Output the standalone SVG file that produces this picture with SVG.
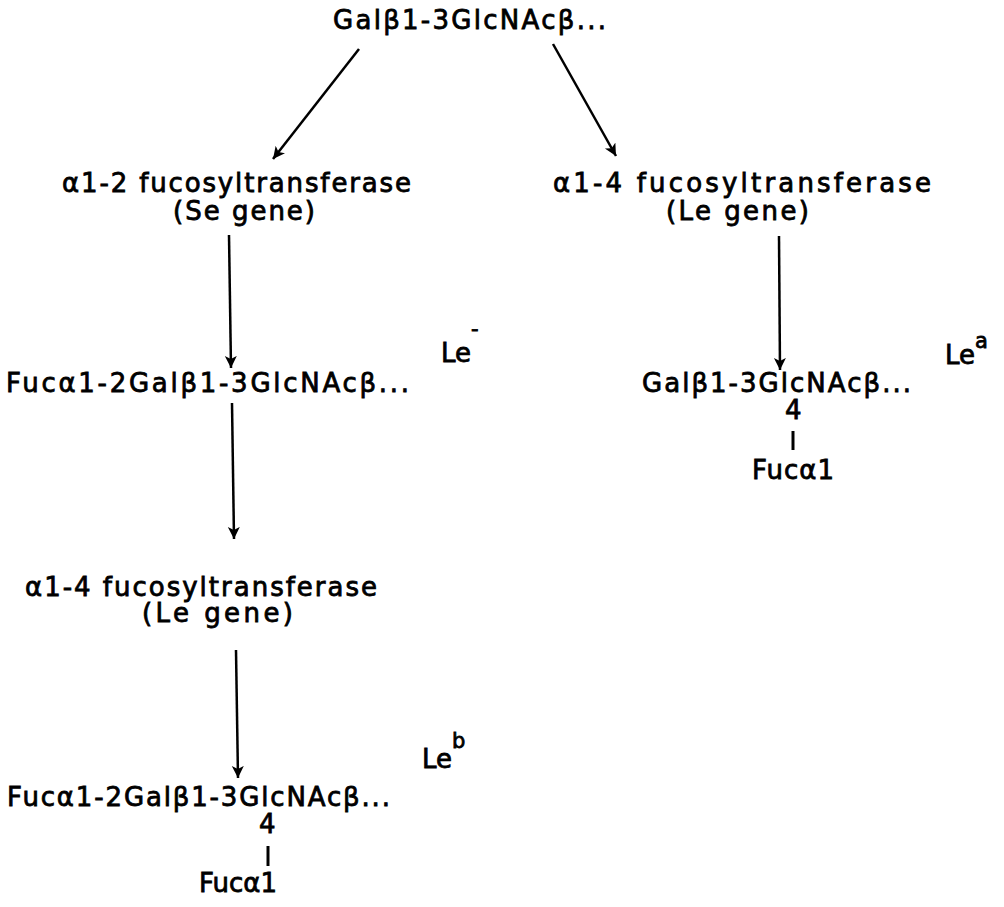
<svg xmlns="http://www.w3.org/2000/svg" width="1004" height="907" viewBox="0 0 1004 907">
<style>
  text { font-family: "DejaVu Sans", "Liberation Sans", sans-serif; font-size: 26px; fill: #000; stroke: #000; stroke-width: 0.8; }
  .sup { font-size: 21px; }
  .conn { stroke: #000; stroke-width: 2.5; fill: none; }
  .bond { stroke: #000; stroke-width: 3; }
</style>
<defs>
  <marker id="ah" markerUnits="userSpaceOnUse" markerWidth="14" markerHeight="14" refX="12" refY="6" orient="auto">
    <path d="M0,0 L12,6 L0,12 L3,6 Z" fill="#000"/>
  </marker>
</defs>
<rect width="1004" height="907" fill="#fff"/>
<g id="connectors">
  <line class="conn" x1="359" y1="49" x2="273" y2="159" marker-end="url(#ah)"/>
  <line class="conn" x1="553" y1="44" x2="616" y2="156" marker-end="url(#ah)"/>
  <line class="conn" x1="229" y1="235" x2="231" y2="368" marker-end="url(#ah)"/>
  <line class="conn" x1="779" y1="236" x2="780" y2="370" marker-end="url(#ah)"/>
  <line class="conn" x1="232" y1="403" x2="234" y2="539" marker-end="url(#ah)"/>
  <line class="conn" x1="236" y1="650" x2="238" y2="778" marker-end="url(#ah)"/>
</g>
<g id="start">
  <text x="333" y="29" textLength="273" lengthAdjust="spacing">Galβ1-3GlcNAcβ...</text>
</g>
<g id="enzyme-se">
  <text x="62" y="192" textLength="349" lengthAdjust="spacing">α1-2 fucosyltransferase</text>
  <text x="173" y="220" textLength="142" lengthAdjust="spacing">(Se gene)</text>
</g>
<g id="enzyme-le-right">
  <text x="553" y="192" textLength="378" lengthAdjust="spacing">α1-4 fucosyltransferase</text>
  <text x="666" y="220" textLength="143" lengthAdjust="spacing">(Le gene)</text>
</g>
<g id="le-minus">
  <text x="6" y="392" textLength="403" lengthAdjust="spacing">Fucα1-2Galβ1-3GlcNAcβ...</text>
  <text x="441" y="362">Le<tspan class="sup" dy="-26">-</tspan></text>
</g>
<g id="le-a">
  <text x="642" y="392" textLength="269" lengthAdjust="spacing">Galβ1-3GlcNAcβ...</text>
  <text x="785" y="419">4</text>
  <line class="bond" x1="793" y1="431" x2="793" y2="450"/>
  <text x="752" y="479" textLength="82" lengthAdjust="spacing">Fucα1</text>
  <text x="945" y="364">Le<tspan class="sup" dy="-16">a</tspan></text>
</g>
<g id="enzyme-le-left">
  <text x="25" y="596" textLength="352" lengthAdjust="spacing">α1-4 fucosyltransferase</text>
  <text x="142" y="622" textLength="151" lengthAdjust="spacing">(Le gene)</text>
</g>
<g id="le-b">
  <text x="7" y="806" textLength="383" lengthAdjust="spacing">Fucα1-2Galβ1-3GlcNAcβ...</text>
  <text x="259" y="833">4</text>
  <line class="bond" x1="268" y1="846" x2="268" y2="866"/>
  <text x="199" y="892" textLength="78" lengthAdjust="spacing">Fucα1</text>
  <text x="422" y="768">Le<tspan class="sup" dy="-20">b</tspan></text>
</g>
</svg>
